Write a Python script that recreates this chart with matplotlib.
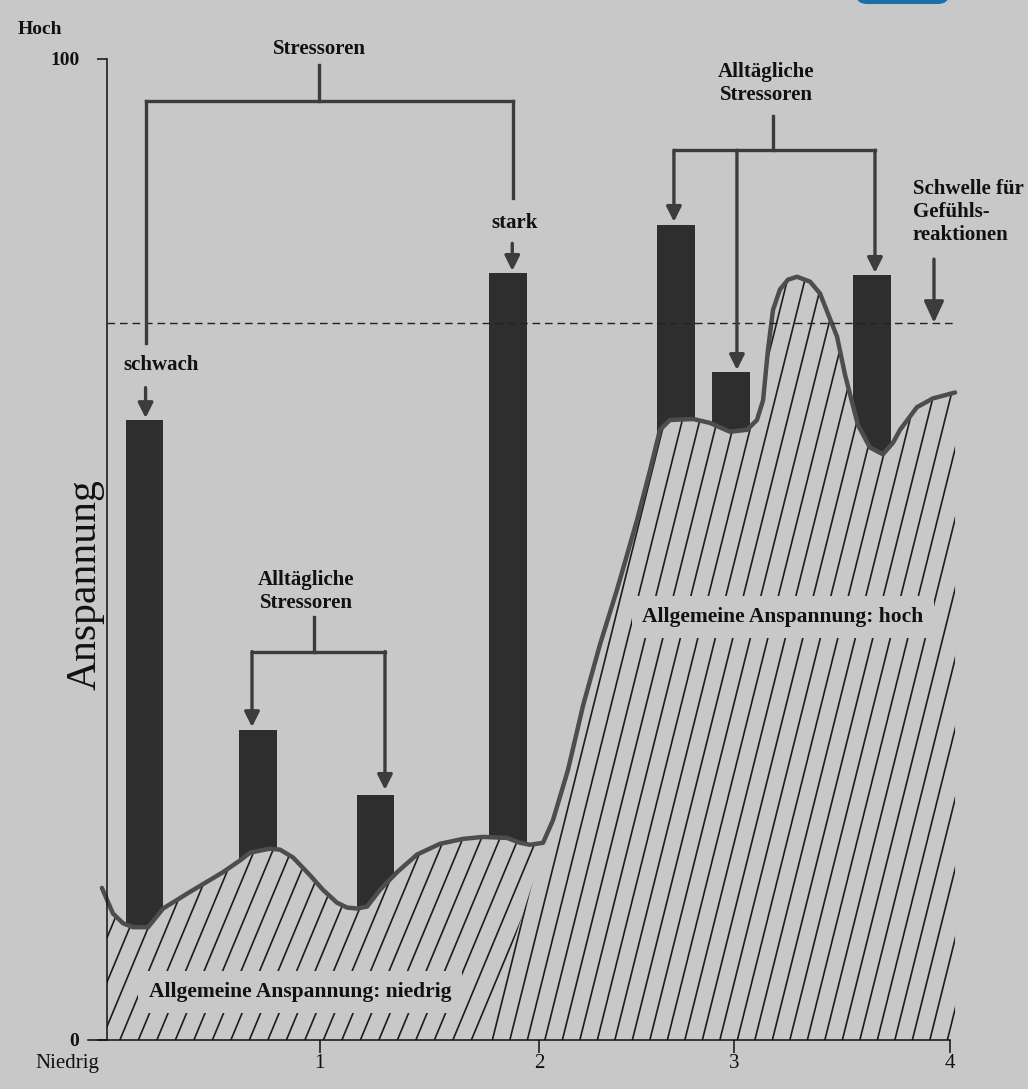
import matplotlib
matplotlib.use('Agg')
import matplotlib.pyplot as plt
import numpy as np
from matplotlib.collections import LineCollection
from matplotlib.patches import Polygon, FancyBboxPatch

# ---------------- data ----------------
# general tension curve ("Allgemeine Anspannung")
curve_x = [-0.024, 0.000, 0.028, 0.076, 0.123, 0.195, 0.266, 0.394, 0.550, 0.631,
           0.679, 0.773, 0.821, 0.883, 0.963, 1.025, 1.091, 1.139, 1.186, 1.234,
           1.295, 1.376, 1.471, 1.580, 1.689, 1.784, 1.898, 1.960, 2.007, 2.069,
           2.116, 2.187, 2.259, 2.339, 2.420, 2.515, 2.577, 2.624, 2.671, 2.781,
           2.861, 2.956, 3.037, 3.084, 3.113, 3.136, 3.160, 3.193, 3.231, 3.274,
           3.336, 3.383, 3.464, 3.502, 3.563, 3.620, 3.682, 3.730, 3.763, 3.843,
           3.919, 4.024]
curve_y = [15.5, 14.3, 12.9, 11.9, 11.5, 11.5, 13.4, 15.1, 17.1, 18.3,
           19.1, 19.5, 19.4, 18.6, 16.8, 15.3, 14.0, 13.5, 13.4, 13.6,
           15.3, 17.1, 18.9, 20.0, 20.5, 20.7, 20.6, 20.1, 19.9, 20.1,
           22.4, 27.5, 34.1, 40.3, 45.9, 53.0, 58.1, 62.2, 63.2, 63.3,
           62.9, 62.0, 62.2, 63.2, 65.2, 70.3, 74.4, 76.5, 77.5, 77.8,
           77.3, 76.1, 71.7, 67.8, 62.7, 60.4, 59.7, 60.9, 62.2, 64.5,
           65.4, 66.0]

# stressor bars (position on the time axis, top value)
bar_x = [0.178, 0.717, 1.274, 1.903, 2.700, 2.961, 3.630]
bar_top = [63.2, 31.6, 25.0, 78.2, 83.1, 68.1, 78.0]

threshold = 73.1

xtick_pos = [1.01, 2.05, 2.975, 4.0]
xtick_labels = ['1', '2', '3', '4']
ytick_pos = [0, 100]
ytick_labels = ['0', '100']

# ---------------- style ----------------
BG = '#c8c8c8'
BAR_C = '#2e2e2e'
LINE_C = '#3c3c3c'
CURVE_C = '#4d4d4d'
HATCH_C = '#1c1c1c'
FONT = 'Liberation Serif'
PX_X = 210.75   # pixels per x unit
PX_Y = 9.81     # pixels per y unit

fig = plt.figure(figsize=(10.28, 10.89), dpi=100, facecolor=BG)
ax = fig.add_axes([0, 0, 1, 1])
ax.set_facecolor(BG)
ax.set_xlim(-0.5077, 4.3701)
ax.set_ylim(-4.995, 106.01)

# axes
for s in ['top', 'right']:
    ax.spines[s].set_visible(False)
ax.spines['left'].set_position(('data', 0))
ax.spines['left'].set_bounds(0, 100)
ax.spines['bottom'].set_position(('data', 0))
ax.spines['bottom'].set_bounds(-0.09, 4.0)
for s in ['left', 'bottom']:
    ax.spines[s].set_linewidth(1.1)
    ax.spines[s].set_color('#111111')
    ax.spines[s].set_zorder(7)
ax.set_xticks(xtick_pos)
ax.set_xticklabels(xtick_labels, fontfamily=FONT, fontsize=15)
ax.set_yticks(ytick_pos)
ax.set_yticklabels(ytick_labels, fontfamily=FONT, fontsize=14, fontweight='bold')
ax.tick_params(axis='x', direction='out', length=9, width=1.1, pad=1, colors='#111111')
ax.tick_params(axis='y', direction='out', length=7, width=1.1, pad=13, colors='#111111')

# bars
ax.bar(bar_x, bar_top, width=0.178, color=BAR_C, zorder=2)

# area under the curve (covers the lower part of the bars)
pts = list(zip(curve_x, curve_y))
fill_poly = [(0.0, 0.0)] + [(x, y) for x, y in pts if x >= 0] + [(curve_x[-1], 0.0)]
ax.add_patch(Polygon(fill_poly, closed=True, facecolor=BG, edgecolor='none', zorder=3))

# hatch regions: low part and steep high part
split_x = 2.116
foot_x = 1.78
low_poly = [(0.0, 0.0)] + [(x, y) for x, y in pts if 0 <= x <= split_x] + [(foot_x, 0.0)]
high_poly = [(foot_x, 0.0)] + [(x, y) for x, y in pts if x >= split_x] + [(curve_x[-1], 0.0)]


def hatch(poly_xy, slope_px, spacing_px, x0, x1):
    k = slope_px * PX_X / PX_Y
    H = 110.0
    dx = H / k
    sp = spacing_px / PX_X
    starts = np.arange(x0 - dx, x1 + sp, sp)
    segs = [[(s0, 0.0), (s0 + dx, H)] for s0 in starts]
    lc = LineCollection(segs, colors=HATCH_C, linewidths=1.2, zorder=4)
    patch = Polygon(poly_xy, closed=True, transform=ax.transData,
                    facecolor='none', edgecolor='none')
    ax.add_patch(patch)
    lc.set_clip_path(patch)
    ax.add_collection(lc)


hatch(low_poly, 2.4, 18.5, 0.0, split_x)
hatch(high_poly, 4.0, 17.5, foot_x, curve_x[-1])

# curve line
ax.plot(curve_x, curve_y, color=CURVE_C, lw=3.2, zorder=5,
        solid_joinstyle='round', solid_capstyle='round')

# threshold line
ax.plot([0, 4.033], [threshold, threshold], color='#222222', lw=1.0,
        ls=(0, (5.5, 3.5)), zorder=5.5)

# ---------------- annotations ----------------
LW = 2.4


def seg(x0, y0, x1, y1):
    ax.plot([x0, x1], [y0, y1], color=LINE_C, lw=LW, solid_capstyle='projecting', zorder=6)


def arrow(x, y0, y1, hl=0.9, hw=0.45):
    ax.annotate('', xy=(x, y1), xytext=(x, y0),
                arrowprops=dict(arrowstyle='-|>,head_length=%s,head_width=%s' % (hl, hw),
                                color=LINE_C, lw=LW, shrinkA=0, shrinkB=0),
                zorder=6)


tkw = dict(fontfamily=FONT, fontsize=15, fontweight='bold', color='#111111', zorder=8)

# "Stressoren" bracket
xl, xr = bar_x[0] + 0.007, bar_x[3] + 0.023
yb = 95.7
ax.text(1.006, 101.0, 'Stressoren', ha='center', va='center', **tkw)
seg(1.006, 99.4, 1.006, yb)
seg(xl, yb, xr, yb)
seg(xl, yb, xl, 71.0)
seg(xr, yb, xr, 85.8)
ax.text(0.256, 68.8, 'schwach', ha='center', va='center', **tkw)
arrow(bar_x[0] + 0.005, bar_top[0] + 3.3, bar_top[0] + 0.2)
ax.text(1.936, 83.3, 'stark', ha='center', va='center', **tkw)
arrow(bar_x[3] + 0.02, bar_top[3] + 3.0, bar_top[3] + 0.2)

# low "Alltägliche Stressoren" bracket
ax.text(0.944, 45.75, 'Alltägliche\nStressoren', ha='center', va='center',
        linespacing=1.2, **tkw)
yb2 = 39.6
xl2, xr2 = bar_x[1] - 0.029, bar_x[2] + 0.045
seg(0.982, 43.1, 0.982, yb2)
seg(xl2, yb2, xr2, yb2)
arrow(xl2, yb2, bar_top[1] + 0.3)
arrow(xr2, yb2, bar_top[2] + 0.5)

# top "Alltägliche Stressoren" bracket
ax.text(3.127, 97.45, 'Alltägliche\nStressoren', ha='center', va='center',
        linespacing=1.2, **tkw)
yb3 = 90.7
seg(3.16, 94.2, 3.16, yb3)
seg(bar_x[4] - 0.01, yb3, bar_x[6] + 0.014, yb3)
arrow(bar_x[4] - 0.01, yb3, bar_top[4] + 0.3)
arrow(bar_x[5] + 0.028, yb3, bar_top[5] + 0.2)
arrow(bar_x[6] + 0.014, yb3, bar_top[6] + 0.2)

# threshold label
ax.text(3.824, 84.35, 'Schwelle für\nGefühls-\nreaktionen', ha='left', va='center',
        linespacing=1.2, **tkw)
arrow(3.924, 79.6, threshold, hl=1.3, hw=0.6)

# region labels
box = dict(boxstyle='square,pad=0.5', facecolor=BG, edgecolor='none')
rkw = dict(tkw)
rkw['fontsize'] = 15.5
ax.text(0.915, 4.9, 'Allgemeine Anspannung: niedrig', ha='center', va='center',
        bbox=box, **rkw)
ax.text(3.208, 43.1, 'Allgemeine Anspannung: hoch', ha='center', va='center',
        bbox=box, **rkw)

# axis texts
ax.text(-0.318, 103.0, 'Hoch', ha='center', va='center', fontfamily=FONT,
        fontsize=14, fontweight='bold', color='#111111')
ax.text(-0.19, -2.35, 'Niedrig', ha='center', va='center', fontfamily=FONT,
        fontsize=15, color='#111111')
ax.text(-0.104, 46.4, 'Anspannung', rotation=90, ha='center', va='center',
        fontfamily=FONT, fontsize=30, color='#111111')

# scanned-page artefact at the top edge
fig.patches.append(FancyBboxPatch((0.8317, 0.9963), 0.0924, 0.03,
                                  boxstyle='round,pad=0,rounding_size=0.012',
                                  transform=fig.transFigure, facecolor='#1a6fa3',
                                  edgecolor='none'))

fig.savefig('out.png', dpi=100, facecolor=BG)
